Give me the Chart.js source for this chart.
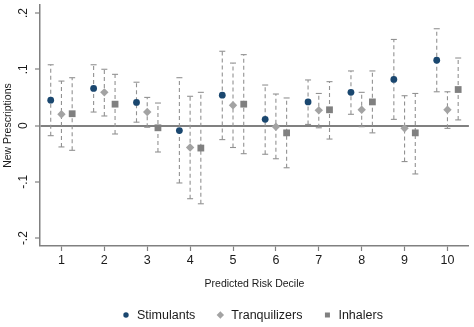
<!DOCTYPE html>
<html>
<head>
<meta charset="utf-8">
<script src="https://cdn.jsdelivr.net/npm/chart.js@4"></script>
<style>
    html, body { margin: 0; padding: 0; background: #ffffff; }
    #wrap { width: 474px; height: 327px; }
</style>
</head>
<body>
<div id="wrap"><canvas id="chart" width="474" height="327"></canvas></div>
<script>
// Deciles and estimates
const deciles = [1, 2, 3, 4, 5, 6, 7, 8, 9, 10];

const stimEst = [0.045, 0.066, 0.041, -0.009, 0.054, 0.011, 0.042, 0.059, 0.082, 0.116];
const stimLo  = [-0.018, 0.024, 0.006, -0.102, -0.025, -0.051, 0.002, 0.020, 0.011, 0.060];
const stimHi  = [0.108, 0.108, 0.077, 0.085, 0.132, 0.072, 0.081, 0.097, 0.153, 0.172];

const tranqEst = [0.020, 0.059, 0.024, -0.039, 0.036, -0.002, 0.027, 0.028, -0.005, 0.028];
const tranqLo  = [-0.038, 0.017, -0.003, -0.130, -0.039, -0.059, -0.004, -0.002, -0.064, -0.005];
const tranqHi  = [0.079, 0.100, 0.050, 0.052, 0.111, 0.056, 0.057, 0.059, 0.053, 0.060];

const inhEst = [0.021, 0.038, -0.004, -0.040, 0.038, -0.013, 0.028, 0.042, -0.013, 0.064];
const inhLo  = [-0.044, -0.015, -0.047, -0.139, -0.050, -0.075, -0.024, -0.013, -0.086, 0.010];
const inhHi  = [0.085, 0.091, 0.040, 0.059, 0.126, 0.049, 0.078, 0.097, 0.057, 0.120];

const yTicks = [-0.2, -0.1, 0, 0.1, 0.2];
const yTickLabels = ['-.2', '-.1', '0', '.1', '.2'];

const FONT = '"Liberation Sans", Arial, Helvetica, sans-serif';
const TEXT = '#1a1a1a';
const AXIS_GRAY = '#808080';
const BAR_GRAY = '#929292';

// Each series sits a little left / centre / right of its decile
const series = [
    { label: 'Stimulants', est: stimEst, lo: stimLo, hi: stimHi, shift: -0.25, color: '#1a476f', style: 'circle', radius: 3.4, legendRadius: 2.7 },
    { label: 'Tranquilizers', est: tranqEst, lo: tranqLo, hi: tranqHi, shift: 0, color: '#a3a3a3', style: 'rectRot', radius: 4.2, legendRadius: 3.7 },
    { label: 'Inhalers', est: inhEst, lo: inhLo, hi: inhHi, shift: 0.25, color: '#808080', style: 'rect', radius: 4.8, legendRadius: 2.5 }
];

// Point markers
const markerSets = series.map(s => ({
    type: 'scatter',
    label: s.label,
    data: deciles.map((d, i) => ({ x: d + s.shift, y: s.est[i] })),
    pointStyle: s.style,
    pointRadius: s.radius,
    backgroundColor: s.color,
    borderColor: s.color,
    borderWidth: 0,
    order: 0
}));

// Dashed confidence interval lines
const ciLineSets = series.map(s => ({
    type: 'line',
    label: s.label + ' CI',
    data: deciles.flatMap((d, i) => [
        { x: d + s.shift, y: s.lo[i] },
        { x: d + s.shift, y: s.hi[i] },
        { x: d + s.shift, y: null }
    ]),
    borderColor: BAR_GRAY,
    borderWidth: 1.1,
    borderDash: [4, 3],
    pointRadius: 0,
    spanGaps: false,
    order: 2
}));

// Caps at both ends of each interval
const capSets = series.map(s => ({
    type: 'scatter',
    label: s.label + ' caps',
    data: deciles.flatMap((d, i) => [
        { x: d + s.shift, y: s.lo[i] },
        { x: d + s.shift, y: s.hi[i] }
    ]),
    pointStyle: 'line',
    pointRadius: 3,
    borderColor: BAR_GRAY,
    borderWidth: 1.1,
    order: 1
}));

// Rotated y tick labels (Chart.js cannot rotate vertical-axis ticks)
const yLabelPlugin = {
    id: 'yLabelPlugin',
    afterDraw(chart) {
        const { ctx } = chart;
        const y = chart.scales.y;
        ctx.save();
        ctx.font = '12px ' + FONT;
        ctx.fillStyle = TEXT;
        ctx.textAlign = 'center';
        ctx.textBaseline = 'middle';
        yTicks.forEach((v, i) => {
            ctx.save();
            ctx.translate(24, y.getPixelForValue(v));
            ctx.rotate(-Math.PI / 2);
            ctx.fillText(yTickLabels[i], 0, 0);
            ctx.restore();
        });
        ctx.restore();
    }
};

// Legend centred under the plot area, like the Stata original
const legendPlugin = {
    id: 'legendPlugin',
    afterDraw(chart) {
        const { ctx, chartArea } = chart;
        const cy = 315;
        const markerToText = 11;
        const textToMarker = 25;
        ctx.save();
        ctx.font = '12.5px ' + FONT;
        const widths = series.map(s => ctx.measureText(s.label).width);
        const total = widths.reduce((a, w) => a + w + markerToText, 0) + textToMarker * (series.length - 1);
        let x = (chartArea.left + chartArea.right) / 2 - total / 2;
        series.forEach((s, i) => {
            ctx.fillStyle = s.color;
            ctx.beginPath();
            drawMarker(ctx, s.style, s.legendRadius, x, cy);
            ctx.fill();
            ctx.fillStyle = TEXT;
            ctx.textAlign = 'left';
            ctx.textBaseline = 'middle';
            ctx.fillText(s.label, x + markerToText, cy + 0.5);
            x += markerToText + widths[i] + textToMarker;
        });
        ctx.restore();
    }
};

function drawMarker(ctx, style, r, x, y) {
    if (style === 'circle') {
        ctx.arc(x, y, r, 0, Math.PI * 2);
    } else if (style === 'rectRot') {
        ctx.moveTo(x, y - r);
        ctx.lineTo(x + r, y);
        ctx.lineTo(x, y + r);
        ctx.lineTo(x - r, y);
        ctx.closePath();
    } else {
        ctx.rect(x - r, y - r, 2 * r, 2 * r);
    }
}

new Chart(document.getElementById('chart'), {
    type: 'scatter',
    data: { datasets: [...markerSets, ...ciLineSets, ...capSets] },
    plugins: [yLabelPlugin, legendPlugin],
    options: {
        responsive: false,
        animation: false,
        layout: { padding: { left: 0, right: 0, top: 0, bottom: 35 } },
        scales: {
            x: {
                type: 'linear',
                min: 0.5,
                max: 10.5,
                afterBuildTicks: scale => { scale.ticks = deciles.map(v => ({ value: v })); },
                afterFit: scale => { scale.height = 46; },
                border: { color: AXIS_GRAY, width: 1.5 },
                grid: { drawOnChartArea: false, tickLength: 5, tickColor: AXIS_GRAY, tickWidth: 1.2 },
                ticks: { color: TEXT, font: { family: FONT, size: 12.5 }, padding: 2, maxRotation: 0 },
                title: { display: true, text: 'Predicted Risk Decile', color: TEXT, font: { family: FONT, size: 10.5 }, padding: { top: 4, bottom: 2 } }
            },
            y: {
                type: 'linear',
                min: -0.214,
                max: 0.214,
                afterBuildTicks: scale => { scale.ticks = yTicks.map(v => ({ value: v })); },
                afterFit: scale => { scale.width = 40; },
                border: { color: AXIS_GRAY, width: 1.5 },
                grid: {
                    drawOnChartArea: true,
                    color: c => (c.tick && c.tick.value === 0 ? AXIS_GRAY : 'rgba(0,0,0,0)'),
                    lineWidth: c => (c.tick && c.tick.value === 0 ? 2 : 0),
                    tickLength: 5,
                    tickColor: AXIS_GRAY,
                    tickWidth: 1.2
                },
                ticks: { display: false },
                title: { display: true, text: 'New Prescriptions', color: TEXT, font: { family: FONT, size: 10.5 }, padding: { top: 2, bottom: 0 } }
            }
        },
        plugins: {
            tooltip: { enabled: false },
            legend: { display: false }
        }
    }
});
</script>
</body>
</html>
